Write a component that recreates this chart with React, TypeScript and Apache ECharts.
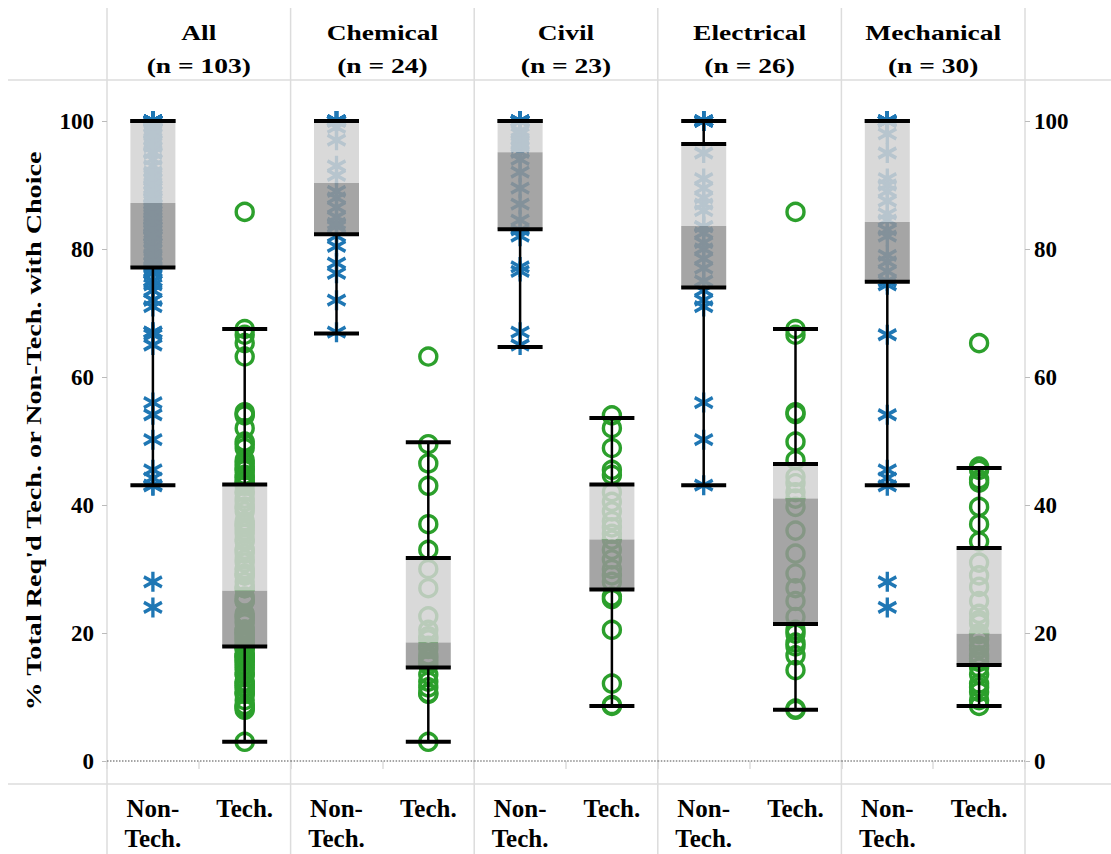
import React, { useEffect, useRef } from 'react';
import * as echarts from 'echarts';

// ---------- data ----------
const panelNames = ['All', 'Chemical', 'Civil', 'Electrical', 'Mechanical'];
const panelCounts = [103, 24, 23, 26, 30];
const groupLabels = ['Non-\nTech.', 'Tech.'];
const yAxisTitle = "% Total Req'd Tech. or Non-Tech. with Choice";

const chemicalNonTech = [100, 100, 100, 100, 100, 100, 100, 100, 99, 97, 93, 91.5, 89, 88, 86.5, 85, 84, 83.5, 82, 80.4, 77.8, 76.2, 72, 67];
const civilNonTech = [100, 100, 100, 100, 100, 100, 98.5, 98, 97, 96.5, 96, 95.1, 94, 92, 89.5, 87, 84.5, 83, 82, 77.2, 76.5, 67, 65];
const electricalNonTech = [100, 100, 100, 100, 100, 100, 95, 91, 89.5, 88, 87, 86, 83.5, 83.5, 82.5, 81, 80, 78.5, 77, 75, 73.5, 72, 71, 56, 50.2, 43.1];
const mechanicalNonTech = [100, 100, 100, 100, 100, 100, 100, 100, 98, 95, 91, 90, 89, 87.5, 85.5, 84.5, 83, 82, 79, 78, 76.5, 75, 74.4, 66.6, 54.1, 45.5, 44.2, 43, 28, 24];

const chemicalTech = [63.2, 49.5, 46.5, 43, 37, 33, 30, 27, 22.6, 20.5, 19.5, 19, 18, 17.5, 16.5, 16, 15.5, 15, 13.5, 12.4, 11.5, 10.6, 10.5, 3];
const civilTech = [54, 52, 48.9, 45.5, 44.7, 42, 40.5, 39, 37.5, 36.5, 35.5, 34.6, 33, 31.5, 30, 29, 28, 25.7, 25.3, 20.5, 12.1, 8.75, 8.6];
const electricalTech = [85.8, 67.5, 66.6, 54.5, 54.2, 49.9, 47, 44.4, 43.4, 42, 41, 39.7, 36, 32.4, 29.3, 27, 25, 22.5, 20.5, 19.9, 18.5, 17.9, 16.5, 14.2, 8.2, 8];
const mechanicalTech = [65.3, 46, 45.5, 44, 43.5, 39.7, 37, 34.3, 31, 29, 27.2, 25, 23, 22, 21.5, 20, 19.8, 19, 18, 17.5, 16.5, 16, 15.5, 14.6, 13.5, 12.1, 11.5, 10.8, 9.5, 8.6];

const allNonTech = [...chemicalNonTech, ...civilNonTech, ...electricalNonTech, ...mechanicalNonTech];
const allTech = [...chemicalTech, ...civilTech, ...electricalTech, ...mechanicalTech];

const nonTechPoints = [allNonTech, chemicalNonTech, civilNonTech, electricalNonTech, mechanicalNonTech];
const techPoints = [allTech, chemicalTech, civilTech, electricalTech, mechanicalTech];

// [lower whisker, Q1, median, Q3, upper whisker]
const nonTechBox = [
  [43.1, 77.1, 87.2, 100, 100],
  [66.8, 82.3, 90.3, 100, 100],
  [64.7, 83.1, 95.1, 100, 100],
  [43.1, 74.0, 83.6, 96.4, 100],
  [43.1, 74.9, 84.2, 100, 100],
];
const techBox = [
  [3.0, 17.9, 26.6, 43.2, 67.5],
  [3.0, 14.6, 18.5, 31.7, 49.8],
  [8.6, 26.8, 34.6, 43.2, 53.6],
  [8.0, 21.4, 41.0, 46.4, 67.5],
  [8.6, 15.0, 19.9, 33.3, 45.8],
];

// ---------- styles ----------
const FONT = "'Liberation Serif', 'Times New Roman', serif";
const BLUE = '#1f77b4';
const GREEN = '#2ca02c';
const GRID_LINE = '#dcdcdc';
const PLOT_LEFT = 107;
const PLOT_RIGHT = 1025;
const PANEL_W = (PLOT_RIGHT - PLOT_LEFT) / 5;
const PLOT_TOP = 121;
const PLOT_H = 640;
const TEXT_STRETCH = 1.25;
const ASTERISK = 'path://M0,-10L0,10M-8.66,-5L8.66,5M-8.66,5L8.66,-5';

export default function App() {
  const ref = useRef<HTMLDivElement>(null);

  useEffect(() => {
    document.body.style.margin = '0';
    const chart = echarts.init(ref.current!, undefined, { renderer: 'svg' });

    const grids: any[] = [];
    const xAxes: any[] = [];
    const yAxes: any[] = [];
    const series: any[] = [];
    const graphics: any[] = [];

    panelNames.forEach((name, i) => {
      const left = PLOT_LEFT + i * PANEL_W;
      grids.push({ left, top: PLOT_TOP, width: PANEL_W, height: PLOT_H });
      xAxes.push({
        type: 'category',
        gridIndex: i,
        data: groupLabels,
        boundaryGap: true,
        offset: 23,
        axisLine: { show: false },
        axisTick: { show: true, length: 8, lineStyle: { color: GRID_LINE, width: 1.5 } },
        axisLabel: {
          interval: 0,
          margin: 9,
          fontFamily: FONT,
          fontWeight: 'bold',
          fontSize: 25,
          lineHeight: 30,
          color: '#000',
        },
        splitLine: { show: false },
      });
      const isFirst = i === 0;
      const isLast = i === panelNames.length - 1;
      yAxes.push({
        type: 'value',
        gridIndex: i,
        min: 0,
        max: 100,
        interval: 20,
        position: isLast ? 'right' : 'left',
        axisLine: { show: false },
        axisTick: { show: isFirst || isLast, length: 5, lineStyle: { color: '#bbb' } },
        axisLabel: {
          show: isFirst || isLast,
          margin: isFirst ? 13 : 9,
          fontFamily: FONT,
          fontWeight: 'bold',
          fontSize: 23,
          color: '#000',
        },
        splitLine: { show: false },
      });

      series.push({
        type: 'scatter',
        xAxisIndex: i,
        yAxisIndex: i,
        clip: false,
        symbol: ASTERISK,
        symbolSize: [18, 20],
        itemStyle: { color: 'rgba(0,0,0,0)', borderColor: BLUE, borderWidth: 3.5, opacity: 1 },
        data: nonTechPoints[i].map((v) => [0, v]),
        z: 2,
        markLine: {
          silent: true,
          symbol: 'none',
          label: { show: false },
          lineStyle: { type: 'dotted', color: '#888', width: 1.5 },
          data: [{ yAxis: 0 }],
        },
      });
      series.push({
        type: 'scatter',
        xAxisIndex: i,
        yAxisIndex: i,
        clip: false,
        symbol: 'circle',
        symbolSize: 17,
        itemStyle: { color: 'rgba(0,0,0,0)', borderColor: GREEN, borderWidth: 3.4, opacity: 1 },
        data: techPoints[i].map((v) => [1, v]),
        z: 2,
      });
      series.push({
        type: 'custom',
        xAxisIndex: i,
        yAxisIndex: i,
        z: 5,
        encode: { x: 0, y: [1, 2, 3, 4, 5] },
        data: [
          [0, ...nonTechBox[i]],
          [1, ...techBox[i]],
        ],
        renderItem: (params: any, api: any) => {
          const cat = api.value(0);
          const pLow = api.coord([cat, api.value(1)]);
          const pQ1 = api.coord([cat, api.value(2)]);
          const pMed = api.coord([cat, api.value(3)]);
          const pQ3 = api.coord([cat, api.value(4)]);
          const pHigh = api.coord([cat, api.value(5)]);
          const cx = pLow[0];
          const bw = 45;
          const x0 = cx - bw / 2;
          const x1 = cx + bw / 2;
          const black = { stroke: '#000', lineWidth: 4 };
          return {
            type: 'group',
            children: [
              { type: 'rect', shape: { x: x0, y: pQ3[1], width: bw, height: pMed[1] - pQ3[1] }, style: { fill: 'rgba(210,210,210,0.85)' } },
              { type: 'rect', shape: { x: x0, y: pMed[1], width: bw, height: pQ1[1] - pMed[1] }, style: { fill: 'rgba(149,149,149,0.85)' } },
              { type: 'line', shape: { x1: cx, y1: pQ3[1], x2: cx, y2: pHigh[1] }, style: { stroke: '#000', lineWidth: 2.5 } },
              { type: 'line', shape: { x1: cx, y1: pQ1[1], x2: cx, y2: pLow[1] }, style: { stroke: '#000', lineWidth: 2.5 } },
              { type: 'line', shape: { x1: x0, y1: pHigh[1], x2: x1, y2: pHigh[1] }, style: black },
              { type: 'line', shape: { x1: x0, y1: pLow[1], x2: x1, y2: pLow[1] }, style: black },
              { type: 'line', shape: { x1: x0, y1: pQ3[1], x2: x1, y2: pQ3[1] }, style: black },
              { type: 'line', shape: { x1: x0, y1: pQ1[1], x2: x1, y2: pQ1[1] }, style: black },
            ],
          };
        },
      });

      graphics.push({
        type: 'text',
        x: left + PANEL_W / 2,
        y: 49,
        scaleX: TEXT_STRETCH,
        style: {
          text: `${name}\n(n = ${panelCounts[i]})`,
          textAlign: 'center',
          textVerticalAlign: 'middle',
          fontFamily: FONT,
          fontWeight: 'bold',
          fontSize: 22,
          lineHeight: 33,
          fill: '#000',
        },
      });
    });

    // y-axis title
    graphics.push({
      type: 'text',
      x: 33,
      y: 431,
      rotation: Math.PI / 2,
      scaleX: 1.28,
      style: {
        text: yAxisTitle,
        textAlign: 'center',
        textVerticalAlign: 'middle',
        fontFamily: FONT,
        fontWeight: 'bold',
        fontSize: 22,
        fill: '#000',
      },
    });

    // frame lines
    for (let i = 0; i <= 5; i++) {
      const x = PLOT_LEFT + i * PANEL_W;
      graphics.push({ type: 'line', shape: { x1: x, y1: 8, x2: x, y2: 854 }, style: { stroke: GRID_LINE, lineWidth: 1.5 }, z: -1 });
    }
    graphics.push({ type: 'line', shape: { x1: 8, y1: 80, x2: 1111, y2: 80 }, style: { stroke: GRID_LINE, lineWidth: 1.5 }, z: -1 });
    graphics.push({ type: 'line', shape: { x1: 8, y1: 784, x2: 1111, y2: 784 }, style: { stroke: GRID_LINE, lineWidth: 1.5 }, z: -1 });

    chart.setOption({
      animation: false,
      backgroundColor: '#fff',
      grid: grids,
      xAxis: xAxes,
      yAxis: yAxes,
      series,
      graphic: graphics,
    });

    return () => chart.dispose();
  }, []);

  return <div ref={ref} style={{ width: 1111, height: 854 }} />;
}
